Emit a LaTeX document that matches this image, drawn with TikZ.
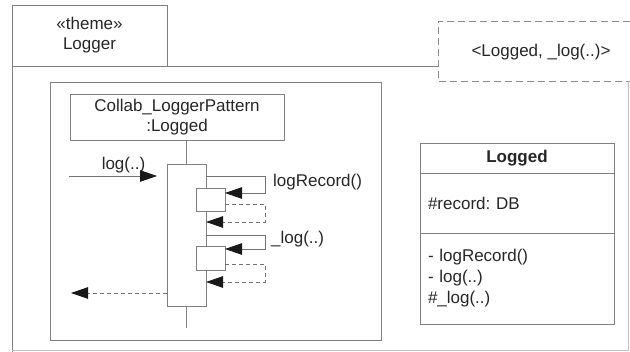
\documentclass[tikz,border=0pt]{standalone}
\usepackage{fontspec}
\setmainfont{Liberation Sans}
\usetikzlibrary{arrows.meta}
\frenchspacing
\begin{document}
\begin{tikzpicture}[x=1pt,y=-1pt,
  every node/.style={font=\fontsize{17}{20}\selectfont, text=black!85},
  frameline/.style={draw=black!50, line width=0.8pt},
  faintline/.style={draw=black!25, line width=0.8pt},
  box/.style={frameline, anchor=north west, inner sep=0pt, outer sep=0pt},
  lbl/.style={inner sep=0pt},
  msg/.style={draw=black!55, line width=0.8pt, -{Triangle[length=17pt,width=11.5pt,color=black!90,fill=black!90]}},
  ret/.style={msg, dash pattern=on 4pt off 3pt},
  bindline/.style={draw=black!45, line width=0.8pt, dash pattern=on 7pt off 4pt}
]
\useasboundingbox (0,0) rectangle (630,352);

% package tab and frame
\node[box, minimum width=155pt, minimum height=61pt, align=center] (tab) at (12,5) {«theme»\\Logger};
\node[anchor=north west, inner sep=0pt, outer sep=0pt, minimum width=192pt, minimum height=60pt] (bind) at (438,21) {};
\node[lbl] (bindtxt) at (541,52) {\textless Logged, \_log(..)\textgreater};
\draw[bindline] (bind.north east) -- (bind.north west) -- (bind.south west) -- (bind.south east);
\draw[frameline] (tab.south east) -- (bind.west |- tab.south);
\draw[frameline] (tab.south west) -- (12,352);
\draw[faintline] (12,350) -- (628,350) -- (628,81);

% interaction frame
\node[box, minimum width=331pt, minimum height=258pt] (sd) at (50,82) {};
\node[box, minimum width=214pt, minimum height=46pt, align=center] (head) at (70,94) {Collab\_LoggerPattern\\:Logged};
\node[box, minimum width=39pt, minimum height=142pt, fill=white] (act) at (167,164) {};
\coordinate (lifeend) at (186.5,328);
\draw[frameline] (act.north) -- (act.north |- head.south);
\draw[frameline] (act.south) -- (lifeend);
\node[box, minimum width=29pt, minimum height=23pt, fill=white] (n1) at (196,188) {};
\node[box, minimum width=29pt, minimum height=24pt, fill=white] (n2) at (196,246) {};

% incoming call
\coordinate (callin) at (69,176);
\draw[msg] (callin) -- ([xshift=-10pt]act.west |- callin);
\node[lbl] (loglbl) at (123.5,165) {log(..)};

% self call 1
\coordinate (r1) at (265,193);
\draw[msg] (act.east |- callin) -| (r1) -- (r1 -| n1.east);
\coordinate (d1) at (225,204);
\coordinate (q1) at (265,222);
\draw[ret] (d1) -| (q1) -- (q1 -| act.east);
\node[lbl, anchor=west] (lbl1) at (273,182) {logRecord()};

% self call 2
\coordinate (m2) at (206,235);
\coordinate (r2) at (265,249);
\draw[msg] (m2) -| (r2) -- (r2 -| n2.east);
\coordinate (d2) at (225,264);
\coordinate (q2) at (265,282);
\draw[ret] (d2) -| (q2) -- (q2 -| act.east);
\node[lbl, anchor=west] (lbl2) at (271,239) {\_log(..)};

% return
\coordinate (retout) at (71,293);
\draw[ret] (act.west |- retout) -- (retout);

% class Logged
\node[box, minimum width=194pt, minimum height=30pt, font=\fontsize{17}{20}\selectfont\bfseries] (cname) at (420,143) {Logged};
\node[box, minimum width=194pt, minimum height=60pt, text width=178pt, align=left] (cattr) at (cname.south west) {\#record: DB};
\node[box, minimum width=194pt, minimum height=91pt, text width=178pt, align=left, font=\fontsize{17}{21}\selectfont] (cops) at (cattr.south west) {- logRecord()\\- log(..)\\\#\_log(..)};
\end{tikzpicture}
\end{document}
